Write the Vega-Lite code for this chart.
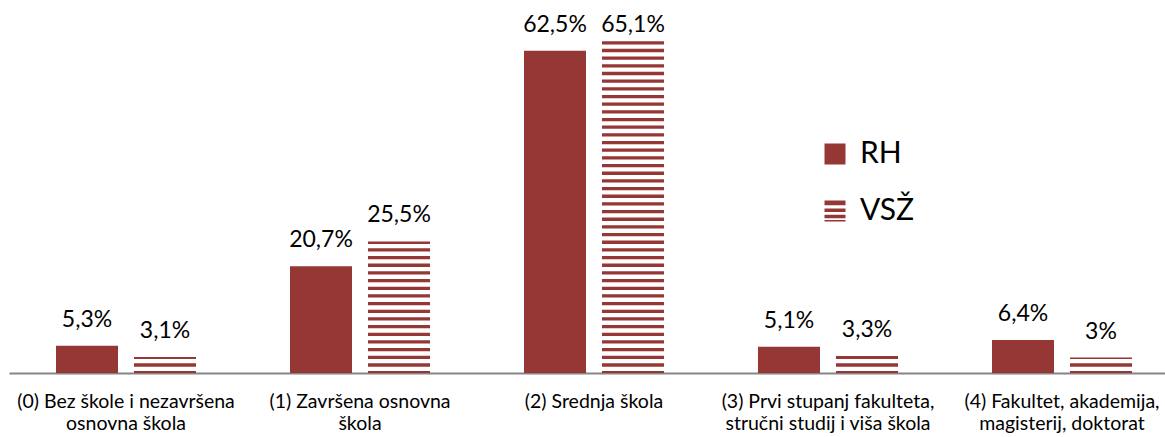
{
  "$schema": "https://vega.github.io/schema/vega-lite/v6.json",
  "width": 1170,
  "height": 361,
  "autosize": "none",
  "padding": {"left": 9, "top": 12, "right": 0, "bottom": 64},
  "background": "white",
  "data": {
    "values": [
      {"cat": "(0) Bez škole i nezavršena\nosnovna škola", "series": "RH", "value": 0.053},
      {"cat": "(0) Bez škole i nezavršena\nosnovna škola", "series": "VSŽ", "value": 0.031},
      {"cat": "(1) Završena osnovna\nškola", "series": "RH", "value": 0.207},
      {"cat": "(1) Završena osnovna\nškola", "series": "VSŽ", "value": 0.255},
      {"cat": "(2) Srednja škola", "series": "RH", "value": 0.625},
      {"cat": "(2) Srednja škola", "series": "VSŽ", "value": 0.651},
      {"cat": "(3) Prvi stupanj fakulteta,\nstručni studij i viša škola", "series": "RH", "value": 0.051},
      {"cat": "(3) Prvi stupanj fakulteta,\nstručni studij i viša škola", "series": "VSŽ", "value": 0.033},
      {"cat": "(4) Fakultet, akademija,\nmagisterij, doktorat", "series": "RH", "value": 0.064},
      {"cat": "(4) Fakultet, akademija,\nmagisterij, doktorat", "series": "VSŽ", "value": 0.03}
    ]
  },
  "encoding": {
    "x": {
      "field": "cat", "type": "nominal", "sort": null, "title": null,
      "scale": {"paddingInner": 0.4017, "paddingOuter": 0.2009},
      "axis": {
        "labelAngle": 0, "ticks": false, "grid": false,
        "domainColor": "#868686", "domainWidth": 2,
        "labelFont": "Lato", "labelFontSize": 19.5, "labelColor": "black",
        "labelPadding": 19, "labelLineHeight": 22,
        "labelExpr": "split(datum.label, '\\n')", "labelLimit": 400
      }
    },
    "xOffset": {"field": "series", "type": "nominal", "scale": {"domain": ["RH", "VSŽ"], "paddingInner": 0.205}},
    "y": {"field": "value", "type": "quantitative", "scale": {"domain": [0, 0.7], "nice": false}, "axis": null}
  },
  "layer": [
    {
      "transform": [{"filter": "datum.series === 'RH'"}],
      "mark": {"type": "bar"},
      "encoding": {
        "color": {
          "field": "series", "type": "nominal",
          "scale": {"domain": ["RH", "VSŽ"], "range": ["#953735", "#953735"]},
          "legend": {
            "orient": "none", "legendX": 811, "legendY": 127, "title": null,
            "symbolType": "square", "symbolSize": 441, "symbolStrokeWidth": 0, "symbolOpacity": 1,
            "labelFont": "Lato", "labelFontSize": 30, "labelColor": "black", "labelOffset": 10,
            "rowPadding": 27, "padding": 0,
            "encode": {"symbols": {"update": {"shape": {"signal": "datum.value === 'VSŽ' ? 'M-1,-1H1V-0.55H-1Z M-1,-0.25H1V0.1H-1Z M-1,0.35H1V0.7H-1Z M-1,0.85H1V1H-1Z' : 'square'"}, "fill": {"value": "#953735"}}}}
          }
        }
      }
    },
    {
      "transform": [{"filter": "datum.series === 'VSŽ'"}],
      "mark": {
        "type": "rule", "color": "#953735", "strokeWidth": 62, "strokeDash": [3.3, 4.37], "strokeCap": "butt",
        "strokeDashOffset": {"expr": "((2 - (scale('y', 0) - scale('y', datum.value))) % 7.67 + 7.67) % 7.67"}
      },
      "encoding": {
        "y2": {"datum": 0}
      }
    },
    {
      "mark": {
        "type": "text", "font": "Lato", "fontSize": 23, "color": "black", "baseline": "alphabetic",
        "dy": {"expr": "max(-19, 20 - scale('y', datum.value))"}
      },
      "encoding": {
        "text": {"field": "value", "type": "quantitative", "format": ".1~%"}
      }
    }
  ],
  "config": {
    "view": {"stroke": null},
    "locale": {"number": {"decimal": ",", "thousands": ".", "grouping": [3], "currency": ["", " €"]}}
  }
}
